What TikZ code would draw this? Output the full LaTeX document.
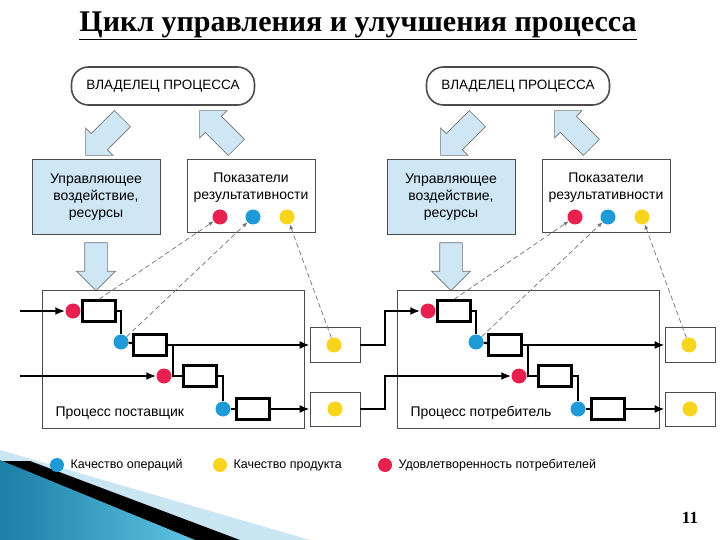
\documentclass[tikz,border=0pt]{standalone}
\usepackage{fontspec}
\setmainfont{Liberation Sans}
\newfontfamily\serifttl{Liberation Serif}
\usetikzlibrary{shapes.arrows,arrows.meta,calc}
\definecolor{ctrl}{HTML}{CFE6F5}
\definecolor{dred}{HTML}{E8204F}
\definecolor{dblue}{HTML}{1E9AD6}
\definecolor{dyel}{HTML}{F8D41C}
\definecolor{teal1}{HTML}{1B7FA6}
\definecolor{teal2}{HTML}{5FC3E4}
\definecolor{lblue}{HTML}{C9E6F2}
\tikzset{
 box/.style={draw=black!70,line width=0.7pt,inner sep=0},
 opr/.style={draw,line width=2.4pt,minimum width=33pt,minimum height=21pt,inner sep=0},
 dot/.style={circle,minimum size=15pt,inner sep=0,fill=#1},
 flow/.style={line width=2.2pt},
 flowa/.style={line width=2.2pt,-{Latex[length=10pt,width=8pt]}},
 dsh/.style={draw=black!55,dash pattern=on 5pt off 3pt,line width=0.7pt,-{Latex[length=5pt,width=4pt]}},
 bigarr/.style={single arrow,draw=black!55,fill=ctrl,line width=0.7pt,minimum height=#1,single arrow head extend=8pt,inner sep=11pt,single arrow head indent=0pt},
 txt/.style={font=\fontsize{14}{17}\selectfont,align=center},
}
\newcommand\mypanel[3]{%
\begin{scope}[xshift=#2pt]
\node[box,line width=1.6pt,rounded corners=17pt,minimum width=183pt,minimum height=38pt,font=\fontsize{13.5}{15}\selectfont] (#1own) at (163,86) {ВЛАДЕЛЕЦ ПРОЦЕССА};
\node[bigarr=52pt,rotate=225] (#1a1) at (108,133) {};
\node[bigarr=52pt,rotate=135] (#1a2) at (222,133) {};
\node[box,fill=ctrl,minimum width=128pt,minimum height=75pt,txt] (#1ctl) at (96,197) {Управляющее\\воздействие,\\ресурсы};
\node[box,minimum width=128pt,minimum height=73pt] (#1ind) at (251,196) {};
\node[txt] (#1it) at (251,188) {Показатели\\результативности};
\node[dot=dred] (#1i1) at (220,217) {};
\node[dot=dblue] (#1i2) at (253,217) {};
\node[dot=dyel] (#1i3) at (287,217) {};
\node[bigarr=48pt,rotate=-90] (#1a3) at (96,261) {};
\node[box,minimum width=262pt,minimum height=138pt] (#1prc) at (173,359) {};
\node[anchor=west,font=\fontsize{14}{17}\selectfont] (#1pl) at (52,413) {#3};
\node[opr] (#1r1) at (99,311) {};
\node[opr] (#1r2) at (150,345) {};
\node[opr] (#1r3) at (200,376) {};
\node[opr] (#1r4) at (253,409) {};
\node[box,minimum width=50pt,minimum height=35pt] (#1o1) at (335,345) {};
\node[box,minimum width=50pt,minimum height=34pt] (#1o2) at (335,409) {};
\node[dot=dyel] (#1y1) at (334,345) {};
\node[dot=dyel] (#1y2) at (335,409) {};
\node[dot=dred] (#1d1) at (73,311) {};
\node[dot=dblue] (#1d2) at (121,342) {};
\node[dot=dred] (#1d3) at (164,376) {};
\node[dot=dblue] (#1d4) at (223,409) {};
\draw[flow] (#1r1.east) -| (#1d2);
\coordinate (#1j) at ($(#1r2.east)+(5,0)$);
\draw[flow] (#1j) |- (#1r3.west);
\draw[flow] (#1r3.east) -| (#1d4);
\draw[flow] (#1d1) -- (#1r1);
\draw[flow] (#1d2) -- (#1r2);
\draw[flow] (#1d3) -- (#1r3);
\draw[flow] (#1d4) -- (#1r4);
\draw[flowa] (#1r2.east) -- (#1o1.west);
\draw[flowa] (#1r4.east) -- (#1o2.west);
\draw[dsh] (#1r1.north) -- (#1i1);
\draw[dsh] (#1d2) -- (#1i2);
\draw[dsh] (#1y1) -- (#1i3);
\end{scope}}
\begin{document}
\begin{tikzpicture}[x=1pt,y=-1pt]
\useasboundingbox (0,0) rectangle (720,540);
\fill[white] (0,0) rectangle (720,540);
% decoration
\fill[lblue] (0,450) -- (310,540) -- (0,540) -- cycle;
\fill[black] (30,461) -- (240,540) -- (0,540) -- (0,461) -- cycle;
\shade[left color=teal1,right color=teal2] (0,460) -- (195,540) -- (0,540) -- cycle;
% title
\node[font=\serifttl\bfseries\fontsize{30}{34}\selectfont,text depth=0pt] (ttl) at (358,22) {\underline{Цикл управления и улучшения процесса}};
\mypanel{L}{0}{Процесс поставщик}
\mypanel{R}{355}{Процесс потребитель}
\coordinate (in1) at (20,311);
\coordinate (in2) at (20,376);
\draw[flowa] (in1) -- (Ld1);
\draw[flowa] (in2) -- (Ld3);
\draw[flowa] (Lo1.east) -- ++(25,0) |- (Rd1);
\draw[flowa] (Lo2.east) -- ++(25,0) |- (Rd3);
% legend
\node[dot=dblue,minimum size=14pt] (lg1) at (57,465) {};
\node[anchor=west,font=\fontsize{12.5}{14}\selectfont] (lt1) at (67,465) {Качество операций};
\node[dot=dyel,minimum size=14pt] (lg2) at (220,465) {};
\node[anchor=west,font=\fontsize{12.5}{14}\selectfont] (lt2) at (230,465) {Качество продукта};
\node[dot=dred,minimum size=14pt] (lg3) at (385,465) {};
\node[anchor=west,font=\fontsize{12.5}{14}\selectfont] (lt3) at (395,465) {Удовлетворенность потребителей};
\node[font=\serifttl\bfseries\fontsize{17}{19}\selectfont] (pg) at (690,518) {11};
\end{tikzpicture}
\end{document}
